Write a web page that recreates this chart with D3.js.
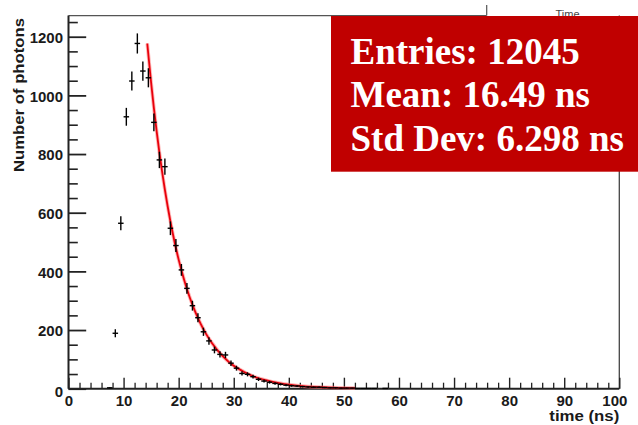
<!DOCTYPE html>
<html>
<head>
<meta charset="utf-8">
<script src="https://cdn.jsdelivr.net/npm/d3@7"></script>
<style>
  body { margin: 0; background: #fff; }
  svg { display: block; }
</style>
</head>
<body>
<svg id="chart" width="638" height="425"></svg>
<script>
// Histogram bins (centre of each 1 ns bin) and photon counts per bin
const timeBins = [7.5, 8.5, 9.5, 10.5, 11.5, 12.5, 13.5, 14.5, 15.5, 16.5, 17.5,
  18.5, 19.5, 20.5, 21.5, 22.5, 23.5, 24.5, 25.5, 26.5, 27.5, 28.5, 29.5, 30.5,
  31.5, 32.5, 33.5, 34.5, 35.5, 36.5, 37.5, 38.5, 39.5, 40.5, 41.5, 42.5, 43.5,
  44.5, 45.5, 46.5, 47.5, 48.5, 49.5, 50.5, 51.5, 52.5, 53.5, 54.5, 55.5, 57.5];
const photonCounts = [3, 189, 564, 927, 1049, 1177, 1083, 1060, 908, 780, 757,
  547, 488, 405, 342, 283, 242, 194, 163, 132, 117, 115, 87, 70,
  52, 49, 41, 32, 26, 22, 18, 15, 12, 10, 9, 7, 6,
  5, 5, 4, 3, 3, 2, 2, 2, 1, 1, 1, 1, 1];
const binWidth = 1;

// Exponential decay fit, sampled along its range
const fitTimes  = [14.3, 15, 16, 17, 18, 19, 20, 21, 22, 23, 24, 25, 26, 28, 30, 32, 34, 36, 38, 40, 43, 46, 49, 52];
const fitValues = [1177, 1043, 878, 739, 622, 523, 440, 371, 312, 263, 221, 186, 157, 111, 78, 56, 39, 28, 20, 14, 8, 5, 3, 2];

// Axes
const xTicks = [0, 10, 20, 30, 40, 50, 60, 70, 80, 90, 100];
const yTicks = [0, 200, 400, 600, 800, 1000, 1200];
const xDomain = [0, 100];
const yDomain = [0, 1272];
const xTitle = "time (ns)";
const yTitle = "Number of photons";
const histTitle = "Time";

// Statistics panel
const statsLines = ["Entries: 12045", "Mean: 16.49 ns", "Std Dev: 6.298 ns"];

const svg = d3.select("#chart");
const W = 638, H = 425;
const frame = { left: 68.5, right: 619.3, top: 15.6, bottom: 388.7 };

svg.append("rect").attr("width", W).attr("height", H).attr("fill", "#fff");

const x = d3.scaleLinear().domain(xDomain).range([frame.left, frame.right]);
const y = d3.scaleLinear().domain(yDomain).range([frame.bottom, frame.top]);

const labelFont = "'Liberation Sans', Arial, Helvetica, sans-serif";

// Histogram title (partly hidden under the stats panel)
svg.append("text")
  .attr("x", 567.5).attr("y", 17.5)
  .attr("text-anchor", "middle")
  .attr("font-family", labelFont)
  .attr("font-size", 11)
  .attr("fill", "#444")
  .text(histTitle);

// Frame: top and right edges
svg.append("line")
  .attr("x1", frame.left).attr("x2", 486.7)
  .attr("y1", frame.top).attr("y2", frame.top)
  .attr("stroke", "#555").attr("stroke-width", 1.2);
svg.append("line")
  .attr("x1", 486.7).attr("x2", 486.7)
  .attr("y1", 5).attr("y2", frame.top)
  .attr("stroke", "#555").attr("stroke-width", 1.2);
svg.append("line")
  .attr("x1", frame.right).attr("x2", frame.right)
  .attr("y1", frame.top).attr("y2", frame.bottom)
  .attr("stroke", "#444").attr("stroke-width", 1.3);

// X axis: minor ticks every 2 ns, major every 10 ns
const xMinor = d3.range(0, 101, 2).filter(v => v % 10 !== 0);
svg.append("g")
  .attr("transform", `translate(0,${frame.bottom})`)
  .call(d3.axisBottom(x).tickValues(xMinor).tickSize(-6).tickFormat(""))
  .call(g => g.select(".domain").remove())
  .call(g => g.selectAll(".tick line").attr("stroke", "#222").attr("stroke-width", 1.3));

const xAxis = svg.append("g")
  .attr("transform", `translate(0,${frame.bottom})`)
  .call(d3.axisBottom(x).tickValues(xTicks).tickSize(-11).tickPadding(6.6).tickFormat(d3.format("d")));
xAxis.select(".domain").remove();
xAxis.selectAll(".tick line").attr("stroke", "#222").attr("stroke-width", 1.4);
xAxis.selectAll(".tick text")
  .attr("font-family", labelFont).attr("font-weight", "bold")
  .attr("font-size", 15).attr("fill", "#1a1a1a")
  .attr("dx", d => d === 100 ? -5 : 0);

// Y axis: minor ticks every 50, major every 200
const yMinor = d3.range(0, yDomain[1], 50).filter(v => v % 200 !== 0);
svg.append("g")
  .attr("transform", `translate(${frame.left},0)`)
  .call(d3.axisLeft(y).tickValues(yMinor).tickSize(-9.3).tickFormat(""))
  .call(g => g.select(".domain").remove())
  .call(g => g.selectAll(".tick line").attr("stroke", "#222").attr("stroke-width", 1.6));

const yAxis = svg.append("g")
  .attr("transform", `translate(${frame.left},0)`)
  .call(d3.axisLeft(y).tickValues(yTicks).tickSize(-17.7).tickPadding(5.5).tickFormat(d3.format("d")));
yAxis.select(".domain").remove();
yAxis.selectAll(".tick line").attr("stroke", "#222").attr("stroke-width", 1.8);
yAxis.selectAll(".tick text")
  .attr("font-family", labelFont).attr("font-weight", "bold")
  .attr("font-size", 15).attr("fill", "#1a1a1a")
  .attr("dy", d => d === 0 ? "0.55em" : "0.38em");

// Axis lines
svg.append("line")
  .attr("x1", frame.left).attr("x2", frame.left)
  .attr("y1", frame.top).attr("y2", frame.bottom)
  .attr("stroke", "#222").attr("stroke-width", 2);
svg.append("line")
  .attr("x1", frame.left).attr("x2", frame.right)
  .attr("y1", frame.bottom).attr("y2", frame.bottom)
  .attr("stroke", "#222").attr("stroke-width", 2);

// Axis titles
svg.append("text")
  .attr("x", frame.right).attr("y", 421)
  .attr("text-anchor", "end")
  .attr("font-family", labelFont).attr("font-weight", "bold")
  .attr("font-size", 14).attr("fill", "#1a1a1a")
  .attr("textLength", 70).attr("lengthAdjust", "spacingAndGlyphs")
  .text(xTitle);

svg.append("text")
  .attr("transform", `translate(24,172) rotate(-90)`)
  .attr("text-anchor", "start")
  .attr("font-family", labelFont).attr("font-weight", "bold")
  .attr("font-size", 14).attr("fill", "#1a1a1a")
  .attr("textLength", 154).attr("lengthAdjust", "spacingAndGlyphs")
  .text(yTitle);

// Fit curve
const fitData = fitTimes.map((t, i) => [t, fitValues[i]]);
const fitLine = d3.line().x(d => x(d[0])).y(d => y(d[1])).curve(d3.curveMonotoneX);
svg.append("path")
  .datum(fitData)
  .attr("d", fitLine)
  .attr("fill", "none")
  .attr("stroke", "#ff7a7a").attr("stroke-width", 3.6).attr("stroke-opacity", 0.55);
svg.append("path")
  .datum(fitData)
  .attr("d", fitLine)
  .attr("fill", "none")
  .attr("stroke", "#e8000b").attr("stroke-width", 1.8);

// Histogram points with Poisson error bars
const bins = timeBins.map((t, i) => ({ t, n: photonCounts[i] })).filter(d => d.n > 0);
const pts = svg.append("g").attr("stroke", "#000").attr("stroke-width", 1.4);
pts.selectAll("line.h").data(bins).join("line")
  .attr("class", "h")
  .attr("x1", d => x(d.t - binWidth / 2)).attr("x2", d => x(d.t + binWidth / 2))
  .attr("y1", d => y(d.n)).attr("y2", d => y(d.n));
pts.selectAll("line.v").data(bins).join("line")
  .attr("class", "v")
  .attr("x1", d => x(d.t)).attr("x2", d => x(d.t))
  .attr("y1", d => y(Math.max(0, d.n - Math.sqrt(d.n))))
  .attr("y2", d => y(d.n + Math.sqrt(d.n)));

// Statistics panel
const stats = svg.append("g");
stats.append("rect")
  .attr("x", 331).attr("y", 16)
  .attr("width", W - 331).attr("height", 155.7)
  .attr("fill", "#c00000");
stats.selectAll("text").data(statsLines).join("text")
  .attr("x", 350.5)
  .attr("y", (d, i) => 63.5 + i * 43.6)
  .attr("font-family", "'Liberation Serif', 'Times New Roman', Times, serif")
  .attr("font-weight", "bold")
  .attr("font-size", 37)
  .attr("fill", "#fff")
  .text(d => d);
</script>
</body>
</html>
